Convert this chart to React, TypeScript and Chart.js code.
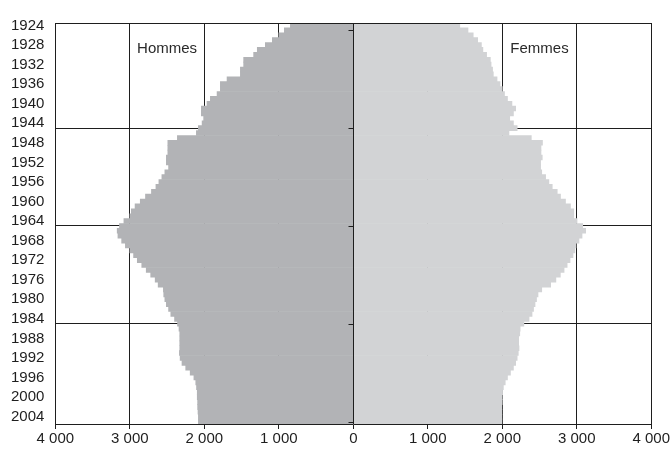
import React, { useEffect, useRef } from "react";
import { Chart, registerables } from "chart.js";

Chart.register(...registerables);

// Birth years (one bar row per year, top to bottom)
const FIRST_YEAR = 1924;
const YEAR_COUNT = 82;
const YEARS: string[] = Array.from({ length: YEAR_COUNT }, (_, i) => String(FIRST_YEAR + i));

// Hommes (left side), values per birth year
const HOMMES: number[] = [
  845, 926, 1000, 1087, 1181, 1289, 1338, 1472, 1472, 1516,
  1516, 1695, 1785, 1785, 1829, 1919, 1964, 2040, 2040, 2009,
  2030, 2080, 2107, 2362, 2490, 2490, 2490, 2510, 2510, 2480,
  2530, 2570, 2610, 2650, 2710, 2790, 2860, 2930, 2980, 3000,
  3080, 3140, 3170, 3160, 3110, 3060, 3000, 2950, 2900, 2840,
  2780, 2720, 2660, 2620, 2550, 2545, 2530, 2510, 2480, 2450,
  2400, 2360, 2340, 2330, 2330, 2330, 2330, 2335, 2325, 2300,
  2250, 2190, 2140, 2115, 2105, 2095, 2095, 2090, 2090, 2085,
  2080, 2080,
];

// Femmes (right side), values per birth year
const FEMMES: number[] = [
  1430, 1540, 1610, 1670, 1720, 1740, 1790, 1840, 1850, 1870,
  1880, 1930, 1970, 2000, 2030, 2070, 2130, 2180, 2150, 2100,
  2150, 2200, 2090, 2390, 2540, 2520, 2520, 2537, 2515, 2515,
  2530, 2582, 2626, 2671, 2738, 2782, 2849, 2916, 2960, 2960,
  3004, 3080, 3120, 3071, 3030, 2990, 2975, 2950, 2910, 2871,
  2830, 2780, 2720, 2650, 2530, 2480, 2460, 2440, 2420, 2400,
  2360, 2290, 2240, 2235, 2220, 2220, 2225, 2215, 2200, 2180,
  2150, 2110, 2070, 2040, 2015, 2005, 2000, 2000, 1995, 1995,
  1995, 1995,
];

// X axis
const X_MIN = -4000;
const X_MAX = 4000;
const X_STEP = 1000;

// Rows that carry the horizontal grid lines, and the rows ticked on the central axis
const GRID_YEARS = ["1945", "1965", "1985"];
const CENTER_TICK_YEARS = ["1925", "1945", "1965", "1985", "2005"];
const LABEL_EVERY = 4;

const SERIES_LABELS = ["Hommes", "Femmes"];
const LABEL_VALUE = 2500;
const LABEL_ROW = 4.7;

const FONT = "'Liberation Sans', Arial, Helvetica, sans-serif";
const INK = "#1e1e1e";
const NONE = "rgba(0,0,0,0)";

function fmt(v: number): string {
  const n = Math.abs(Math.round(v));
  if (n >= 1000) {
    return `${Math.floor(n / 1000)} ${String(n % 1000).padStart(3, "0")}`;
  }
  return String(n);
}

const overlay = {
  id: "overlay",
  afterDatasetsDraw(chart: any) {
    const { ctx, scales, chartArea } = chart;
    const x = scales.x;
    const y = scales.y;
    ctx.save();
    // central axis
    const cx = Math.round(x.getPixelForValue(0)) + 0.5;
    ctx.strokeStyle = INK;
    ctx.lineWidth = 1;
    ctx.beginPath();
    ctx.moveTo(cx, chartArea.top);
    ctx.lineTo(cx, chartArea.bottom);
    CENTER_TICK_YEARS.forEach((yr) => {
      const idx = YEARS.indexOf(yr);
      const py = Math.round(y.getPixelForValue(idx)) + 0.5;
      ctx.moveTo(cx - 5, py);
      ctx.lineTo(cx, py);
    });
    ctx.stroke();
    ctx.restore();
  },
  afterDraw(chart: any) {
    const { ctx, scales } = chart;
    const x = scales.x;
    const y = scales.y;
    ctx.save();
    ctx.font = `15px ${FONT}`;
    ctx.fillStyle = "#2a2a2a";
    ctx.textAlign = "center";
    ctx.textBaseline = "middle";
    const py = y.getPixelForValue(LABEL_ROW);
    ctx.fillText(SERIES_LABELS[0], x.getPixelForValue(-LABEL_VALUE), py);
    ctx.fillText(SERIES_LABELS[1], x.getPixelForValue(LABEL_VALUE), py);
    ctx.restore();
  },
};

export default function App() {
  const ref = useRef<HTMLCanvasElement | null>(null);

  useEffect(() => {
    document.body.style.margin = "0";
    if (!ref.current) return;
    Chart.defaults.font.family = FONT;
    const chart = new Chart(ref.current, {
      type: "bar",
      data: {
        labels: YEARS,
        datasets: [
          {
            label: SERIES_LABELS[0],
            data: HOMMES.map((v) => -v),
            backgroundColor: "#b2b3b6",
            borderWidth: 0,
            barPercentage: 1,
            categoryPercentage: 1,
          },
          {
            label: SERIES_LABELS[1],
            data: FEMMES,
            backgroundColor: "#d2d3d5",
            borderWidth: 0,
            barPercentage: 1,
            categoryPercentage: 1,
          },
        ],
      },
      options: {
        indexAxis: "y",
        animation: false,
        responsive: false,
        devicePixelRatio: 1,
        layout: { padding: { left: 0, top: 23, right: 0, bottom: 2 } },
        plugins: {
          legend: { display: false },
          tooltip: { enabled: false },
        },
        scales: {
          x: {
            type: "linear",
            position: "bottom",
            min: X_MIN,
            max: X_MAX,
            stacked: true,
            ticks: {
              stepSize: X_STEP,
              callback: (v: any) => fmt(Number(v)),
              font: { size: 15, family: FONT },
              color: INK,
              padding: 1,
            },
            grid: {
              color: INK,
              lineWidth: 1,
              drawTicks: true,
              tickLength: 5,
              tickColor: INK,
            },
            border: { display: true, color: INK, z: 1 },
          },
          xTop: {
            type: "linear",
            position: "top",
            min: X_MIN,
            max: X_MAX,
            ticks: { display: false },
            grid: { display: false, drawTicks: false },
            border: { display: true, color: INK, z: 1 },
          },
          y: {
            type: "category",
            position: "left",
            stacked: true,
            offset: true,
            grid: {
              offset: false,
              drawTicks: false,
              lineWidth: 1,
              color: (c: any) =>
                c.tick && GRID_YEARS.includes(YEARS[c.index]) ? INK : NONE,
            },
            border: { display: false },
            ticks: {
              autoSkip: false,
              padding: 11,
              font: { size: 15, family: FONT },
              color: INK,
              callback: (_v: any, i: number) => (i % LABEL_EVERY === 0 ? YEARS[i] : ""),
            },
          },
        } as any,
      },
      plugins: [overlay],
    });
    return () => chart.destroy();
  }, []);

  return (
    <div style={{ width: 671, height: 451 }}>
      <canvas ref={ref} width={671} height={451} style={{ display: "block" }} />
    </div>
  );
}
